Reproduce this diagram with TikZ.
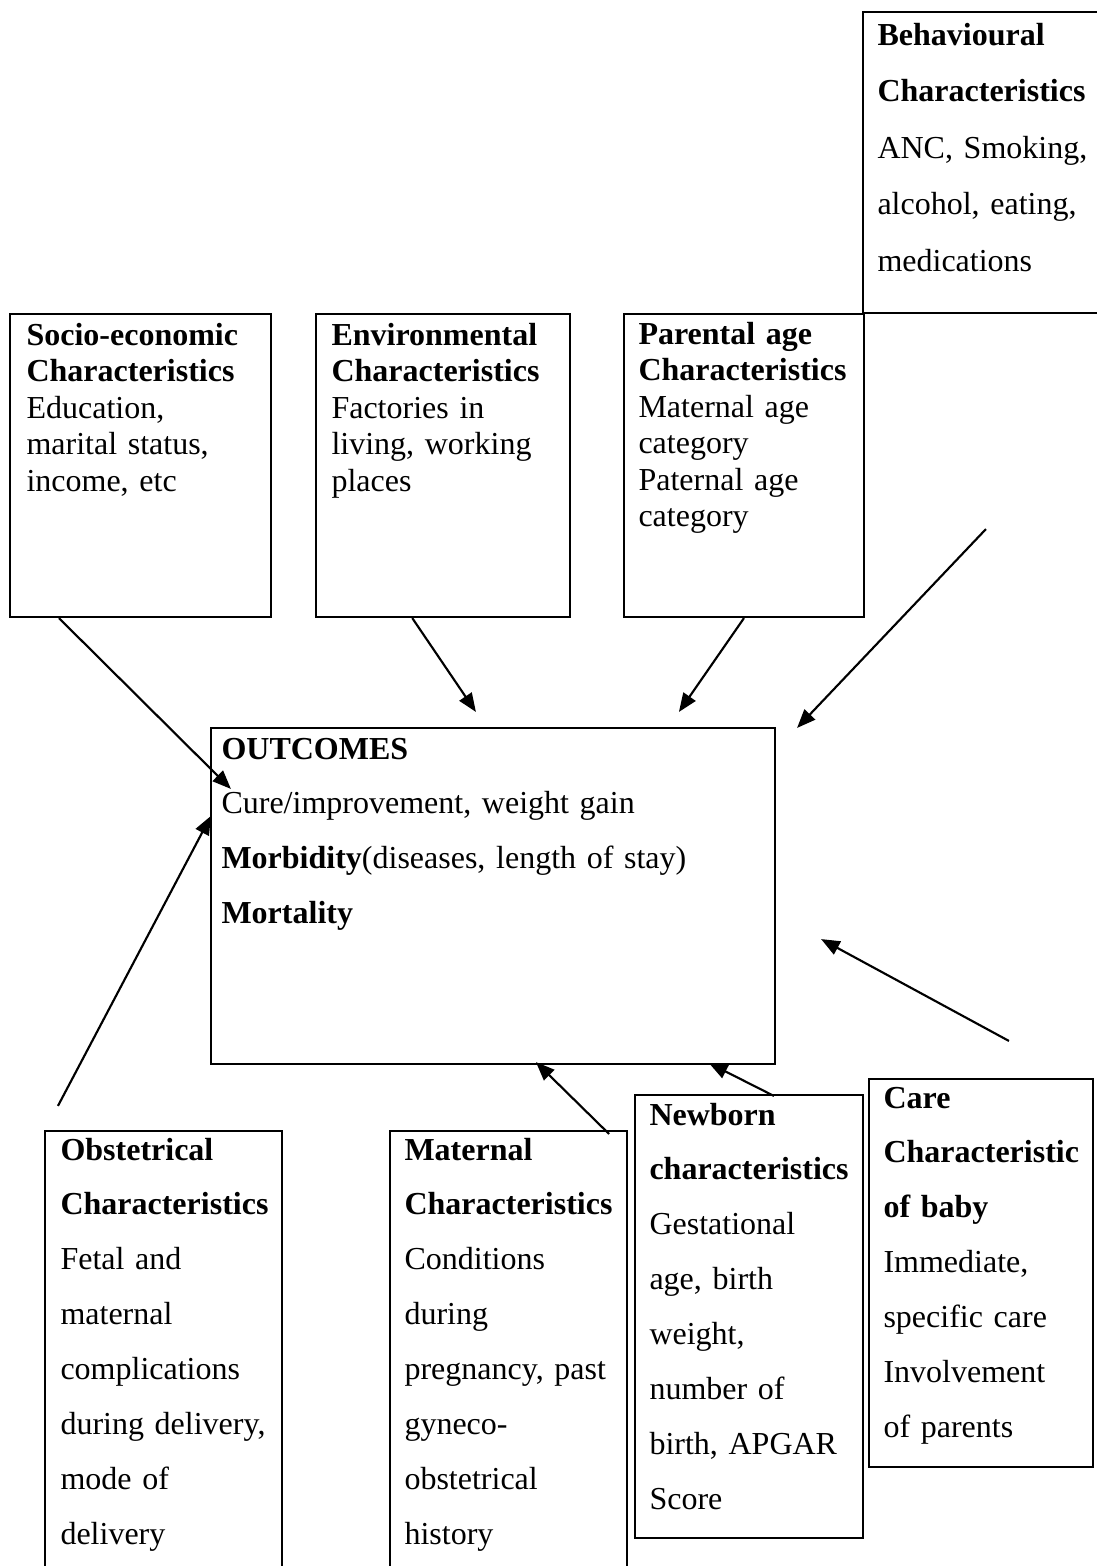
\documentclass[tikz,border=0pt]{standalone}
\usepackage{fontspec}
\setmainfont{Liberation Serif}
\usepackage{tikz}
\usetikzlibrary{calc, fit, arrows.meta}

\tikzset{
  box/.style={draw, line width=0.8pt, inner sep=0pt},
  txt/.style={anchor=base west, inner sep=0pt, text width=4cm, align=left},
  tight/.style={font=\fontsize{12pt}{13.7pt}\selectfont},
  loose/.style={font=\fontsize{12pt}{20.6pt}\selectfont},
  arr/.style={->, >={Triangle[length=7pt,width=5.5pt]}, line width=0.8pt}
}

\begin{document}
\begin{tikzpicture}[x=0.375pt, y=-0.375pt]
\clip (0,0) rectangle (1097,1566);

% Behavioural
\node[box, fit={(863,12) (1110,313)}] (beh) {};
\node[txt, font=\fontsize{12pt}{21.2pt}\selectfont] (behtxt) at (877,45) {
  \textbf{Behavioural}\\
  \textbf{Characteristics}\\
  ANC, Smoking,\\
  alcohol, eating,\\
  medications
};

% Socio-economic
\node[box, fit={(10,314) (271,617)}] (soc) {};
\node[txt, tight] (soctxt) at (26,345) {
  \textbf{Socio-economic}\\
  \textbf{Characteristics}\\
  Education,\\
  marital status,\\
  income, etc
};

% Environmental
\node[box, fit={(316,314) (570,617)}] (env) {};
\node[txt, tight] (envtxt) at (331,345) {
  \textbf{Environmental}\\
  \textbf{Characteristics}\\
  Factories in\\
  living, working\\
  places
};

% Parental age
\node[box, fit={(624,314) (864,617)}] (par) {};
\node[txt, tight] (partxt) at (638,344) {
  \textbf{Parental age}\\
  \textbf{Characteristics}\\
  Maternal age\\
  category\\
  Paternal age\\
  category
};

% Outcomes
\node[box, fit={(211,728) (775,1064)}] (out) {};
\node[txt, text width=8cm, font=\fontsize{12pt}{20.5pt}\selectfont] (outtxt) at (221,759) {
  \textbf{OUTCOMES}\\
  Cure/improvement, weight gain\\
  \textbf{Morbidity}(diseases, length of stay)\\
  \textbf{Mortality}
};

% Obstetrical
\node[box, fit={(45,1131) (282,1600)}] (obs) {};
\node[txt, loose] (obstxt) at (60,1160) {
  \textbf{Obstetrical}\\
  \textbf{Characteristics}\\
  Fetal and\\
  maternal\\
  complications\\
  during delivery,\\
  mode of\\
  delivery
};

% Maternal
\node[box, fit={(390,1131) (627,1600)}] (mat) {};
\node[txt, loose] (mattxt) at (404,1160) {
  \textbf{Maternal}\\
  \textbf{Characteristics}\\
  Conditions\\
  during\\
  pregnancy, past\\
  gyneco-\\
  obstetrical\\
  history
};

% Newborn
\node[box, fit={(635,1095) (863,1538)}] (new) {};
\node[txt, loose] (newtxt) at (649,1125) {
  \textbf{Newborn}\\
  \textbf{characteristics}\\
  Gestational\\
  age, birth\\
  weight,\\
  number of\\
  birth, APGAR\\
  Score
};

% Care
\node[box, fit={(869,1079) (1093,1467)}] (care) {};
\node[txt, loose] (caretxt) at (883,1108) {
  \textbf{Care}\\
  \textbf{Characteristic}\\
  \textbf{of baby}\\
  Immediate,\\
  specific care\\
  Involvement\\
  of parents
};

% Free ends of the two loose arrows
\coordinate (behin) at ($(beh.south west)+(124,215)$);
\coordinate (carein) at ($(care.north west)+(141,-37)$);

% Arrows in
\draw[arr] ($(soc.south west)!0.19!(soc.south east)$) -- ($(out.north west)+(21,62)$);
\draw[arr] ($(env.south west)!0.38!(env.south east)$) -- ($(out.north west)+(266,-15)$);
\draw[arr] (par.south) -- ($(out.north west)+(469,-15)$);
\draw[arr] (behin) -- ($(out.north east)+(21,1)$);

% Arrows up
\draw[arr] ($(obs.north west)+(14,-24)$) -- ($(out.north west)+(1,89)$);
\draw[arr] ($(mat.north east)+(-19,4)$) -- ($(out.south west)+(326,-3)$);
\draw[arr] ($(new.north west)+(140,2)$) -- ($(out.south west)+(499,-2)$);
\draw[arr] (carein) -- ($(out.south east)+(45,-126)$);
\end{tikzpicture}
\end{document}
